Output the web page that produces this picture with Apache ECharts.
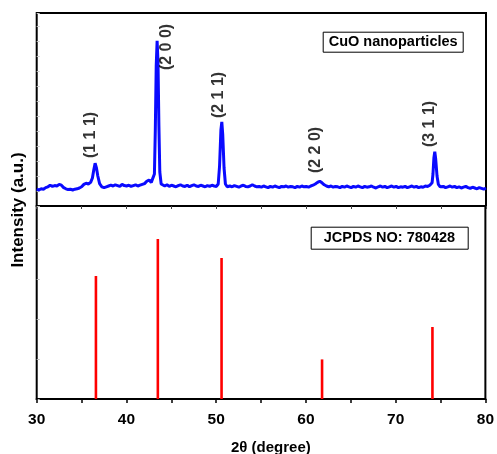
<!DOCTYPE html>
<html><head><meta charset="utf-8">
<script src="https://cdn.jsdelivr.net/npm/echarts@6/dist/echarts.min.js"></script>
<style>html,body{margin:0;padding:0;background:#fff}#c{width:497px;height:454px}</style>
</head><body><div id="c"></div>
<script>
// XRD pattern of CuO nanoparticles: [2θ, intensity]
const xrdData = [
[30.0,84],[30.25,80],[30.5,86],[30.75,84],[31.0,92],[31.25,96],[31.5,104],[31.75,98],[32.0,102],[32.25,100],
[32.5,108],[32.75,104],[33.0,92],[33.25,86],[33.5,82],[33.75,84],[34.0,80],[34.25,84],[34.5,86],[34.75,90],
[35.0,96],[35.25,108],[35.5,114],[35.75,110],[36.0,118],[36.2,140],[36.35,180],[36.5,214],[36.65,190],[36.8,150],
[37.0,112],[37.25,96],[37.5,92],[37.75,96],[38.0,100],[38.25,104],[38.5,100],[38.75,106],[39.0,102],[39.25,98],
[39.5,108],[39.75,102],[40.0,100],[40.25,104],[40.5,98],[40.75,102],[41.0,106],[41.25,100],[41.5,104],[41.75,108],
[42.0,112],[42.25,124],[42.5,130],[42.75,118],[42.95,112],[43.1,160],[43.2,380],[43.3,700],[43.4,826],[43.5,720],
[43.6,400],[43.7,170],[43.85,110],[44.0,104],[44.25,100],[44.5,106],[44.75,98],[45.0,104],[45.25,100],[45.5,96],
[45.75,102],[46.0,106],[46.25,100],[46.5,98],[46.75,104],[47.0,96],[47.25,102],[47.5,106],[47.75,100],[48.0,98],
[48.25,104],[48.5,100],[48.75,96],[49.0,102],[49.25,98],[49.5,104],[49.75,100],[50.0,98],[50.2,110],[50.35,200],
[50.5,380],[50.6,421],[50.7,360],[50.85,190],[51.0,110],[51.2,96],[51.5,100],[51.75,96],[52.0,102],[52.25,98],
[52.5,94],[52.75,100],[53.0,104],[53.25,98],[53.5,96],[53.75,100],[54.0,106],[54.25,100],[54.5,96],[54.75,98],
[55.0,94],[55.25,100],[55.5,96],[55.75,92],[56.0,98],[56.25,94],[56.5,100],[56.75,96],[57.0,92],[57.25,98],
[57.5,96],[57.75,100],[58.0,94],[58.25,98],[58.5,96],[58.75,92],[59.0,98],[59.25,94],[59.5,100],[59.75,96],
[60.0,98],[60.25,94],[60.5,100],[60.75,104],[61.0,110],[61.25,118],[61.5,124],[61.75,116],[62.0,106],[62.25,100],
[62.5,96],[62.75,100],[63.0,94],[63.25,98],[63.5,96],[63.75,92],[64.0,98],[64.25,94],[64.5,100],[64.75,96],
[65.0,92],[65.25,98],[65.5,94],[65.75,100],[66.0,96],[66.25,92],[66.5,98],[66.75,94],[67.0,96],[67.25,100],
[67.5,94],[67.75,90],[68.0,96],[68.25,100],[68.5,94],[68.75,98],[69.0,92],[69.25,96],[69.5,100],[69.75,94],
[70.0,98],[70.25,92],[70.5,96],[70.75,94],[71.0,98],[71.25,92],[71.5,96],[71.75,100],[72.0,94],[72.25,98],
[72.5,92],[72.75,96],[73.0,94],[73.25,100],[73.5,98],[73.75,104],[74.0,116],[74.1,160],[74.2,240],[74.3,272],
[74.4,236],[74.55,150],[74.7,108],[74.9,96],[75.0,94],[75.25,98],[75.5,92],[75.75,96],[76.0,100],[76.25,94],
[76.5,98],[76.75,92],[77.0,96],[77.25,90],[77.5,94],[77.75,98],[78.0,92],[78.25,88],[78.5,94],[78.75,90],
[79.0,86],[79.25,92],[79.5,88],[79.75,84],[80.0,90]
];
// Miller index labels and their anchor (2θ, intensity)
const hklLabels = ['(1 1 1)', '(2 0 0)', '(2 1 1)', '(2 2 0)', '(3 1 1)'];
const hklTheta = [36.0, 44.4, 50.2, 61.05, 73.7];
const hklIntensity = [355, 795, 555, 280, 410];
// JCPDS reference lines
const refTheta = [36.6, 43.5, 50.6, 61.8, 74.1];
const refIntensity = [61.5, 80, 70.5, 19.8, 36];
const xTicks = [30, 40, 50, 60, 70, 80];

const FONT = "'Liberation Sans', Arial, sans-serif";
const chart = echarts.init(document.getElementById('c'), null, {renderer: 'canvas'});
const L = 36.7, R = 11, T1 = 13, H = 193;
chart.setOption({
  animation: false,
  backgroundColor: '#fff',
  grid: [
    {left: L, right: R, top: T1, height: H, show: true, borderColor: '#000', borderWidth: 2, backgroundColor: 'transparent'},
    {left: L, right: R, top: T1 + H, height: H, show: true, borderColor: '#000', borderWidth: 2, backgroundColor: 'transparent'}
  ],
  xAxis: [
    {gridIndex: 0, type: 'value', min: xTicks[0], max: xTicks[xTicks.length-1], interval: 5,
     axisLine: {show: false}, axisLabel: {show: false}, splitLine: {show: false},
     axisTick: {show: true, length: 3, lineStyle: {color: '#444', width: 1}}},
    {gridIndex: 1, type: 'value', min: xTicks[0], max: xTicks[xTicks.length-1], interval: 10,
     axisLine: {show: true, lineStyle: {color: '#000', width: 2}},
     axisTick: {show: true, length: 4, lineStyle: {color: '#000', width: 1.5}},
     minorTick: {show: true, splitNumber: 2, length: 4, lineStyle: {color: '#000', width: 1.5}},
     splitLine: {show: false},
     axisLabel: {show: true, margin: 13, color: '#000', fontSize: 15.5, fontWeight: 'bold', fontFamily: FONT}}
  ],
  yAxis: [
    {gridIndex: 0, type: 'value', min: 0, max: 965, interval: 75,
     axisLine: {show: false}, axisLabel: {show: false}, splitLine: {show: false},
     axisTick: {show: true, inside: true, length: 3, lineStyle: {color: '#ccc', width: 1}}},
    {gridIndex: 1, type: 'value', min: 0, max: 96.5, interval: 20,
     axisLine: {show: false}, axisLabel: {show: false}, splitLine: {show: false},
     axisTick: {show: true, inside: true, length: 3, lineStyle: {color: '#bbb', width: 1}}}
  ],
  title: [
    {text: 'CuO nanoparticles', left: 322.7, top: 31.7, padding: [2, 6, 2, 6],
     borderColor: '#000', borderWidth: 1,
     textStyle: {fontSize: 14.5, fontWeight: 'bold', color: '#000', fontFamily: FONT, lineHeight: 17}},
    {text: 'JCPDS NO: 780428', left: 310.7, top: 226.7, padding: [3, 13, 3, 13],
     borderColor: '#000', borderWidth: 1,
     textStyle: {fontSize: 14.5, fontWeight: 'bold', color: '#000', fontFamily: FONT, lineHeight: 16.5}}
  ],
  graphic: [
    {type: 'text', left: 231, top: 440, style: {text: '2θ (degree)', fill: '#000', font: 'bold 15px ' + FONT}},
    {type: 'text', x: 18.5, y: 210, rotation: Math.PI / 2,
     style: {text: 'Intensity (a.u.)', font: 'bold 17px ' + FONT, fill: '#000', align: 'center', verticalAlign: 'middle'}}
  ],
  series: [
    {type: 'line', xAxisIndex: 0, yAxisIndex: 0, data: xrdData, showSymbol: false, symbol: 'none',
     lineStyle: {color: '#0a0aff', width: 3}, z: 3, silent: true},
    {type: 'scatter', xAxisIndex: 0, yAxisIndex: 0, symbolSize: 0, silent: true, z: 4,
     data: hklLabels.map((t, i) => ({value: [hklTheta[i], hklIntensity[i]], name: t})),
     label: {show: true, position: 'inside', rotate: 90, formatter: p => p.name,
             color: '#000', fontSize: 16, fontWeight: 'bold', fontFamily: FONT}},
    {type: 'bar', xAxisIndex: 1, yAxisIndex: 1, barWidth: 2.6, silent: true,
     data: refTheta.map((t, i) => [t, refIntensity[i]]),
     itemStyle: {color: '#ff0000'}}
  ]
});
</script></body></html>
